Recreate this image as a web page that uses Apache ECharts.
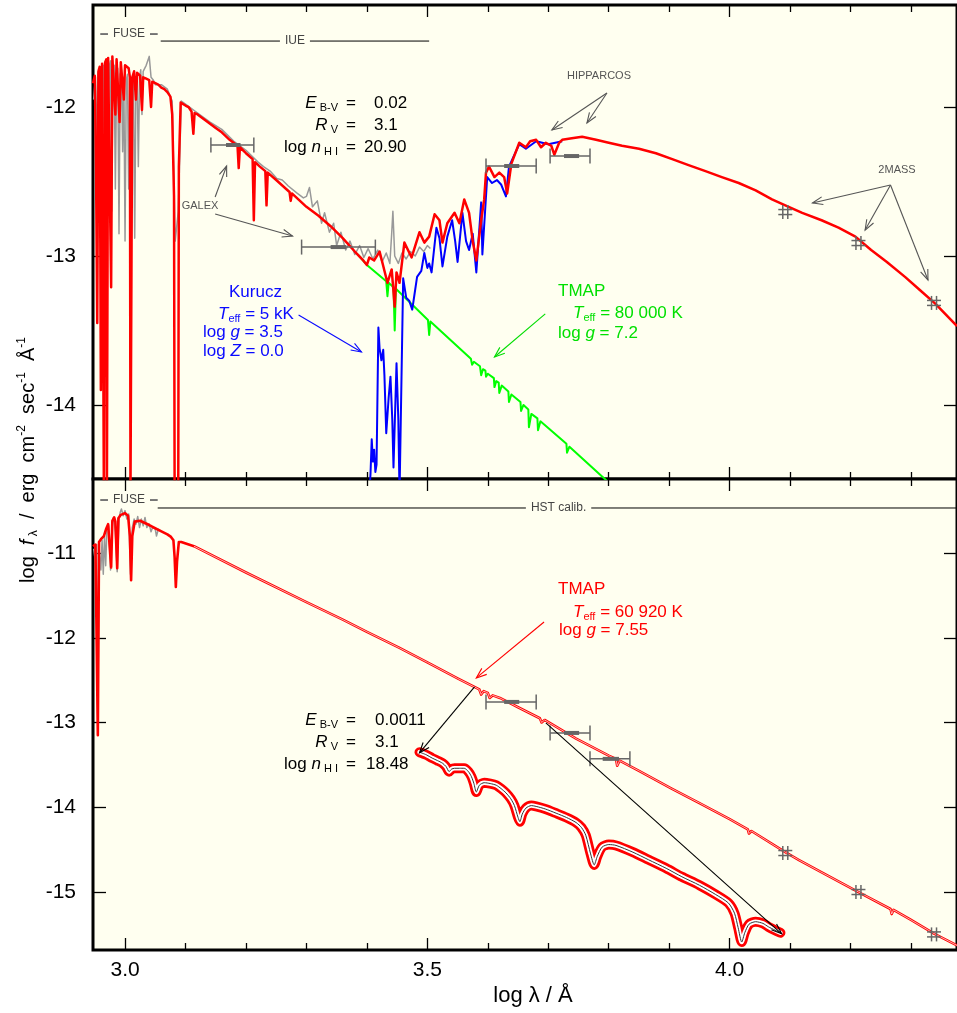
<!DOCTYPE html>
<html><head><meta charset="utf-8">
<script src="https://cdn.jsdelivr.net/npm/echarts@6/dist/echarts.min.js"></script>
<style>html,body{margin:0;padding:0;background:#fff}#c{width:957px;height:1013px}</style>
</head><body><div id="c"></div>
<script>
// ---------- axis ranges & ticks ----------
const X_RANGE = [2.947, 4.376];
const TOP_Y = [-14.497, -11.315];
const BOT_Y = [-15.684, -10.127];
const xMajorTicks = [3.0, 3.5, 4.0];
const xMinorTicks = [3.1, 3.2, 3.3, 3.4, 3.6, 3.7, 3.8, 3.9, 4.1, 4.2, 4.3];
const topYTicks = [-12, -13, -14];
const botYTicks = [-11, -12, -13, -14, -15];

// ---------- top panel: observation (FUSE+IUE), grey ----------
const topObs = [[2.948,-11.95],[2.951,-11.80],[2.953,-12.30],[2.955,-11.78],[2.957,-11.75],[2.959,-12.45],[2.961,-11.74],[2.964,-11.72],[2.966,-12.60],[2.968,-11.73],[2.970,-11.70],[2.972,-12.40],[2.974,-11.72],[2.976,-11.69],[2.978,-12.70],[2.980,-11.75],[2.982,-11.72],[2.984,-12.55],[2.986,-11.80],[2.988,-11.74],[2.990,-12.85],[2.992,-11.78],[2.994,-11.75],[2.996,-12.30],[2.998,-11.80],[3.000,-12.90],[3.002,-11.82],[3.004,-11.78],[3.006,-12.55],[3.008,-11.80],[3.010,-12.80],[3.012,-11.84],[3.014,-11.80],[3.016,-12.88],[3.018,-11.85],[3.020,-11.78],[3.022,-12.40],[3.024,-11.80],[3.026,-11.75],[3.028,-12.05],[3.030,-11.76],[3.035,-11.72],[3.040,-11.66],[3.043,-11.80],[3.047,-11.82],[3.050,-11.85],[3.060,-11.85],[3.070,-11.88],[3.078,-11.96],[3.083,-12.90],[3.088,-12.70],[3.093,-11.96],[3.100,-11.98],[3.120,-12.04],[3.140,-12.10],[3.160,-12.15],[3.180,-12.23],[3.200,-12.29],[3.220,-12.37],[3.229,-12.40],[3.240,-12.43],[3.251,-12.48],[3.260,-12.49],[3.270,-12.53],[3.285,-12.58],[3.295,-12.61],[3.300,-12.60],[3.305,-12.54],[3.310,-12.67],[3.318,-12.63],[3.325,-12.78],[3.330,-12.71],[3.338,-12.84],[3.345,-12.78],[3.350,-12.93],[3.357,-12.84],[3.365,-12.96],[3.372,-12.90],[3.380,-12.99],[3.388,-12.93],[3.395,-13.01],[3.402,-12.95],[3.410,-13.02],[3.418,-12.96],[3.425,-13.04],[3.432,-12.98],[3.438,-13.05],[3.441,-12.85],[3.443,-12.70],[3.446,-13.00],[3.452,-13.05],[3.458,-12.98],[3.465,-13.02],[3.472,-12.97],[3.480,-13.00],[3.487,-12.94],[3.494,-12.97],[3.500,-12.93],[3.505,-12.95]];

// ---------- top panel: TMAP 80 kK model, green ----------
const topTmap = [[3.385,-12.99],[3.400,-13.06],[3.432,-13.17],[3.434,-13.27],[3.436,-13.18],[3.444,-13.21],[3.446,-13.50],[3.448,-13.22],[3.501,-13.43],[3.503,-13.53],[3.505,-13.44],[3.572,-13.69],[3.574,-13.73],[3.577,-13.71],[3.587,-13.74],[3.589,-13.80],[3.592,-13.76],[3.596,-13.77],[3.597,-13.81],[3.600,-13.79],[3.610,-13.82],[3.611,-13.88],[3.614,-13.84],[3.618,-13.85],[3.619,-13.92],[3.623,-13.87],[3.634,-13.91],[3.635,-13.98],[3.639,-13.93],[3.654,-13.98],[3.655,-14.04],[3.659,-14.00],[3.667,-14.03],[3.668,-14.15],[3.672,-14.06],[3.682,-14.09],[3.683,-14.17],[3.687,-14.11],[3.730,-14.26],[3.731,-14.32],[3.735,-14.28],[3.789,-14.48],[3.800,-14.52]];

// ---------- top panel: Kurucz 5 kK model, blue ----------
const topKurucz = [[3.404,-14.60],[3.406,-14.46],[3.408,-14.23],[3.410,-14.38],[3.412,-14.30],[3.414,-14.45],[3.416,-14.40],[3.419,-13.48],[3.421,-13.62],[3.424,-13.70],[3.427,-13.63],[3.429,-13.80],[3.432,-14.19],[3.436,-13.95],[3.439,-13.81],[3.442,-14.10],[3.444,-14.42],[3.449,-13.72],[3.452,-14.10],[3.454,-14.60],[3.460,-13.15],[3.465,-13.28],[3.470,-13.30],[3.475,-13.36],[3.479,-13.25],[3.483,-13.14],[3.490,-13.10],[3.495,-12.98],[3.500,-13.08],[3.503,-13.05],[3.507,-13.11],[3.515,-12.81],[3.520,-12.88],[3.525,-13.07],[3.533,-12.87],[3.541,-12.76],[3.546,-12.90],[3.550,-13.04],[3.558,-12.71],[3.564,-12.90],[3.569,-12.96],[3.575,-12.85],[3.581,-13.11],[3.589,-12.64],[3.591,-12.99],[3.599,-12.47],[3.607,-12.51],[3.615,-12.49],[3.622,-12.52],[3.630,-12.60],[3.635,-12.40],[3.652,-12.25],[3.663,-12.28],[3.680,-12.23],[3.700,-12.25],[3.723,-12.23]];

// ---------- top panel: combined model, red ----------
const topModel = [[2.947,-11.84],[2.950,-11.79],[2.952,-12.40],[2.954,-13.45],[2.956,-11.76],[2.958,-11.73],[2.960,-13.90],[2.962,-11.71],[2.964,-11.70],[2.965,-14.60],[2.967,-11.70],[2.969,-11.68],[2.970,-14.60],[2.972,-11.67],[2.975,-11.66],[2.977,-13.21],[2.979,-11.66],[2.982,-11.67],[2.984,-12.05],[2.986,-11.68],[2.989,-11.69],[2.991,-12.10],[2.993,-11.70],[2.996,-11.71],[2.998,-11.95],[3.000,-11.72],[3.003,-11.73],[3.006,-11.74],[3.008,-11.80],[3.009,-14.60],[3.011,-14.60],[3.012,-11.80],[3.015,-11.76],[3.018,-11.95],[3.020,-11.77],[3.025,-11.79],[3.028,-12.02],[3.030,-11.80],[3.035,-11.81],[3.040,-11.82],[3.043,-12.00],[3.045,-11.83],[3.050,-11.84],[3.055,-11.85],[3.060,-11.87],[3.065,-11.88],[3.070,-11.90],[3.075,-11.93],[3.078,-12.05],[3.081,-12.60],[3.082,-14.60],[3.088,-14.60],[3.089,-12.40],[3.092,-11.97],[3.095,-11.97],[3.100,-11.99],[3.105,-12.00],[3.110,-12.03],[3.113,-12.18],[3.115,-12.04],[3.120,-12.05],[3.130,-12.08],[3.140,-12.11],[3.150,-12.14],[3.160,-12.17],[3.173,-12.22],[3.186,-12.26],[3.188,-12.41],[3.190,-12.27],[3.200,-12.31],[3.211,-12.35],[3.213,-12.76],[3.215,-12.37],[3.223,-12.40],[3.232,-12.43],[3.234,-12.66],[3.236,-12.44],[3.250,-12.49],[3.272,-12.57],[3.274,-12.63],[3.276,-12.58],[3.300,-12.67],[3.320,-12.73],[3.340,-12.80],[3.360,-12.88],[3.380,-12.97],[3.394,-13.03],[3.400,-13.06],[3.404,-13.01],[3.412,-13.03],[3.421,-12.97],[3.426,-13.05],[3.434,-13.18],[3.441,-13.09],[3.446,-13.34],[3.449,-13.11],[3.454,-13.18],[3.462,-12.91],[3.474,-13.01],[3.487,-12.84],[3.495,-12.91],[3.503,-12.87],[3.512,-12.72],[3.520,-12.76],[3.525,-12.91],[3.533,-12.78],[3.545,-12.71],[3.553,-12.78],[3.561,-12.62],[3.569,-12.71],[3.575,-12.90],[3.581,-13.03],[3.589,-12.76],[3.594,-12.62],[3.597,-12.44],[3.602,-12.40],[3.611,-12.47],[3.619,-12.44],[3.627,-12.47],[3.632,-12.58],[3.639,-12.38],[3.652,-12.24],[3.663,-12.27],[3.670,-12.23],[3.680,-12.22],[3.688,-12.27],[3.696,-12.24],[3.705,-12.26],[3.710,-12.32],[3.718,-12.24],[3.723,-12.22],[3.739,-12.21],[3.756,-12.20],[3.779,-12.22],[3.800,-12.24],[3.822,-12.26],[3.850,-12.28],[3.878,-12.31],[3.905,-12.35],[3.932,-12.39],[3.960,-12.43],[3.987,-12.47],[4.015,-12.51],[4.043,-12.56],[4.070,-12.62],[4.092,-12.66],[4.120,-12.71],[4.152,-12.76],[4.180,-12.81],[4.208,-12.87],[4.234,-12.96],[4.260,-13.04],[4.290,-13.14],[4.315,-13.23],[4.340,-13.32],[4.376,-13.47]];

// ---------- photometry: [xlo, xhi, y, innerLo, innerHi, kind(0 bar / 1 cross)] ----------
const topPhot = [[3.142,3.213,-12.255,3.167,3.191,0],[3.292,3.414,-12.94,3.340,3.366,0],[3.597,3.680,-12.396,3.627,3.652,0],[3.703,3.769,-12.329,3.726,3.751,0],[4.092,4.092,-12.705,4.092,4.092,1],[4.213,4.213,-12.913,4.213,4.213,1],[4.338,4.338,-13.315,4.338,4.338,1]];
const botPhot = [[3.597,3.680,-12.757,3.627,3.652,0],[3.703,3.769,-13.123,3.726,3.751,0],[3.769,3.835,-13.429,3.790,3.817,0],[4.092,4.092,-14.54,4.092,4.092,1],[4.213,4.213,-15.00,4.213,4.213,1],[4.338,4.338,-15.50,4.338,4.338,1]];

// ---------- bottom panel: observation (FUSE), grey ----------
const botObs = [[2.948,-10.95],[2.951,-11.10],[2.953,-10.90],[2.955,-13.10],[2.957,-10.95],[2.960,-11.20],[2.962,-10.85],[2.964,-11.25],[2.966,-10.80],[2.968,-11.15],[2.970,-10.72],[2.973,-10.68],[2.976,-11.20],[2.979,-10.64],[2.981,-10.58],[2.984,-10.75],[2.987,-11.22],[2.990,-10.60],[2.992,-10.52],[2.994,-10.48],[2.997,-10.56],[3.000,-10.50],[3.003,-10.60],[3.006,-10.54],[3.009,-11.25],[3.012,-10.70],[3.015,-10.60],[3.018,-10.66],[3.021,-10.57],[3.024,-10.70],[3.027,-10.60],[3.030,-10.68],[3.033,-10.58],[3.036,-10.70],[3.040,-10.66],[3.043,-10.75],[3.046,-10.69],[3.050,-10.72],[3.052,-10.80],[3.055,-10.72],[3.058,-10.73]];

// ---------- bottom panel: TMAP 60 920 K model, red ----------
const botModel = [[2.947,-10.92],[2.951,-10.90],[2.953,-10.89],[2.955,-13.15],[2.957,-10.87],[2.961,-10.83],[2.965,-10.80],[2.969,-10.71],[2.972,-10.66],[2.974,-10.68],[2.977,-11.17],[2.979,-10.62],[2.982,-10.58],[2.984,-10.63],[2.987,-11.18],[2.989,-10.59],[2.993,-10.55],[3.000,-10.53],[3.005,-10.56],[3.008,-10.80],[3.010,-11.32],[3.012,-10.80],[3.016,-10.63],[3.025,-10.62],[3.031,-10.64],[3.040,-10.67],[3.045,-10.69],[3.056,-10.73],[3.070,-10.78],[3.076,-10.81],[3.080,-10.85],[3.082,-11.05],[3.084,-11.40],[3.086,-11.10],[3.089,-10.87],[3.093,-10.87],[3.114,-10.92],[3.200,-11.23],[3.300,-11.58],[3.361,-11.79],[3.400,-11.93],[3.454,-12.12],[3.500,-12.29],[3.550,-12.48],[3.586,-12.61],[3.589,-12.67],[3.593,-12.63],[3.600,-12.65],[3.603,-12.71],[3.608,-12.68],[3.620,-12.71],[3.650,-12.82],[3.686,-12.95],[3.689,-13.00],[3.694,-12.97],[3.746,-13.19],[3.800,-13.39],[3.812,-13.43],[3.814,-13.51],[3.818,-13.45],[3.850,-13.57],[3.904,-13.78],[3.950,-13.95],[4.000,-14.14],[4.030,-14.26],[4.032,-14.31],[4.036,-14.28],[4.092,-14.53],[4.114,-14.62],[4.150,-14.76],[4.213,-15.00],[4.266,-15.20],[4.268,-15.26],[4.271,-15.21],[4.300,-15.33],[4.338,-15.49],[4.376,-15.63]];

// ---------- bottom panel: enlarged detail of the model (thick band) ----------
const botDetail = [[3.487,-13.35],[3.498,-13.38],[3.508,-13.42],[3.517,-13.45],[3.525,-13.48],[3.531,-13.52],[3.536,-13.58],[3.540,-13.55],[3.545,-13.54],[3.553,-13.54],[3.561,-13.54],[3.568,-13.58],[3.573,-13.64],[3.577,-13.72],[3.581,-13.82],[3.586,-13.74],[3.594,-13.71],[3.604,-13.72],[3.614,-13.74],[3.622,-13.78],[3.630,-13.83],[3.638,-13.90],[3.644,-13.98],[3.650,-14.12],[3.653,-14.17],[3.657,-14.08],[3.663,-14.01],[3.672,-13.98],[3.680,-13.99],[3.695,-14.02],[3.713,-14.07],[3.730,-14.12],[3.746,-14.18],[3.755,-14.24],[3.762,-14.33],[3.770,-14.55],[3.776,-14.68],[3.781,-14.58],[3.789,-14.47],[3.800,-14.44],[3.812,-14.45],[3.840,-14.53],[3.866,-14.62],[3.895,-14.72],[3.921,-14.82],[3.950,-14.92],[3.977,-15.03],[3.998,-15.13],[4.008,-15.25],[4.014,-15.42],[4.020,-15.59],[4.025,-15.48],[4.032,-15.38],[4.043,-15.35],[4.055,-15.37],[4.064,-15.41],[4.075,-15.45],[4.084,-15.48]];

// ---------- annotation arrows: [x1, y1, x2, y2] (data units) ----------
const arrowsTopGrey = [[3.797,-11.906,3.706,-12.154],[3.797,-11.906,3.764,-12.107],[4.266,-12.523,4.137,-12.644],[4.266,-12.523,4.224,-12.826],[4.266,-12.523,4.328,-13.161],[3.149,-12.604,3.168,-12.396],[3.149,-12.718,3.277,-12.866]];
const arrowsTopBlue = [[3.287,-13.396,3.391,-13.644]];
const arrowsTopGreen = [[3.695,-13.389,3.611,-13.678]];
const arrowsBotRed = [[3.693,-11.814,3.581,-12.474]];
const arrowsBotBlack = [[3.578,-12.580,3.487,-13.358],[3.696,-13.005,4.086,-15.493]];

// ---------- instrument ranges: [label, xStart, xEnd, y, style] ----------
const instTop = [['FUSE', 2.959, 3.054, -11.510, 'dash'], ['IUE', 3.059, 3.503, -11.557, 'line']];
const instBot = [['FUSE', 2.959, 3.054, -10.375, 'dash'], ['HST calib.', 3.054, 4.38, -10.469, 'line']];

// =====================================================================
const FF = '"Liberation Sans", Arial, Helvetica, sans-serif';
const chart = echarts.init(document.getElementById('c'), null, {renderer: 'canvas'});
const mctx = document.createElement('canvas').getContext('2d');
function textW(t, fs) { mctx.font = fs + 'px ' + FF; return mctx.measureText(t).width; }

function richSet(fs) {
  const s = Math.round(fs * 0.62);
  return {
    i: {fontStyle: 'italic', fontSize: fs, fontFamily: FF, lineHeight: fs + 4},
    sb: {fontSize: s, fontFamily: FF, lineHeight: 10, verticalAlign: 'bottom'},
    sp: {fontSize: s, fontFamily: FF, lineHeight: 10, verticalAlign: 'top'}
  };
}
function T(x, y, text, o) {
  o = o || {};
  const fs = o.fontSize || 17;
  return {type: 'text', x: x, y: y, z: 100, silent: true, rotation: o.rotation || 0,
    style: {text: text, fill: o.color || '#000', fontSize: fs, fontFamily: FF,
      align: o.align || 'left', verticalAlign: 'middle', lineHeight: fs + 4, rich: richSet(fs)}};
}

function arrowSeries(list, color, xi, yi) {
  return {type: 'custom', xAxisIndex: xi, yAxisIndex: yi, z: 20, silent: true,
    data: list, encode: {x: [0, 2], y: [1, 3]},
    renderItem: function (params, api) {
      const p1 = api.coord([api.value(0), api.value(1)]);
      const p2 = api.coord([api.value(2), api.value(3)]);
      const ang = Math.atan2(p2[1] - p1[1], p2[0] - p1[0]);
      const L = 11, w = 0.36;
      const h1 = [p2[0] - L * Math.cos(ang - w), p2[1] - L * Math.sin(ang - w)];
      const h2 = [p2[0] - L * Math.cos(ang + w), p2[1] - L * Math.sin(ang + w)];
      return {type: 'group', children: [
        {type: 'line', shape: {x1: p1[0], y1: p1[1], x2: p2[0], y2: p2[1]}, style: {stroke: color, lineWidth: 1.1}},
        {type: 'polyline', shape: {points: [h1, p2, h2]}, style: {stroke: color, fill: null, lineWidth: 1.1}}
      ]};
    }};
}

function photSeries(list, xi, yi) {
  return {type: 'custom', xAxisIndex: xi, yAxisIndex: yi, z: 15, silent: true,
    data: list, encode: {x: [0, 1], y: 2},
    renderItem: function (params, api) {
      const c = '#666';
      const y = api.value(2);
      const ln = (x1, y1, x2, y2, w) => ({type: 'line', shape: {x1, y1, x2, y2}, style: {stroke: c, lineWidth: w || 1.5}});
      if (api.value(5) === 1) {
        const p = api.coord([api.value(0), y]);
        return {type: 'group', children: [
          ln(p[0] - 2.5, p[1] - 7, p[0] - 2.5, p[1] + 7), ln(p[0] + 2.5, p[1] - 7, p[0] + 2.5, p[1] + 7),
          ln(p[0] - 7, p[1] - 2.5, p[0] + 7, p[1] - 2.5), ln(p[0] - 7, p[1] + 2.5, p[0] + 7, p[1] + 2.5)
        ]};
      }
      const a = api.coord([api.value(0), y]), b = api.coord([api.value(1), y]);
      const ia = api.coord([api.value(3), y]), ib = api.coord([api.value(4), y]);
      return {type: 'group', children: [
        ln(a[0], a[1], b[0], b[1], 1.5),
        ln(a[0], a[1] - 7.5, a[0], a[1] + 7.5, 1.5),
        ln(b[0], b[1] - 7.5, b[0], b[1] + 7.5, 1.5),
        ln(ia[0], ia[1], ib[0], ib[1], 4)
      ]};
    }};
}

function instSeries(list, xi, yi) {
  return {type: 'custom', xAxisIndex: xi, yAxisIndex: yi, z: 15, silent: true, clip: false,
    data: list.map(r => [r[1], r[2], r[3]]), encode: {x: [0, 1], y: 2},
    renderItem: function (params, api) {
      const r = list[params.dataIndex];
      const a = api.coord([r[1], r[3]]), b = api.coord([r[2], r[3]]);
      const cx = (a[0] + b[0]) / 2;
      const w = textW(r[0], 12) / 2 + 5;
      const dash = r[4] === 'dash';
      const col = dash ? '#6a6a6a' : '#000';
      const lw = dash ? 1.8 : 1;
      return {type: 'group', children: [
        {type: 'line', shape: {x1: a[0], y1: a[1], x2: cx - w, y2: a[1]}, style: {stroke: col, lineWidth: lw}},
        {type: 'line', shape: {x1: cx + w, y1: a[1], x2: b[0], y2: a[1]}, style: {stroke: col, lineWidth: lw}},
        {type: 'text', x: cx, y: a[1], style: {text: r[0], fill: '#444', fontSize: 12, fontFamily: FF, align: 'center', verticalAlign: 'middle'}}
      ]};
    }};
}

function lineSeries(data, color, width, xi, yi, z, extra) {
  return Object.assign({type: 'line', data: data, xAxisIndex: xi, yAxisIndex: yi, z: z,
    showSymbol: false, symbol: 'none', silent: true, clip: true,
    lineStyle: {color: color, width: width, join: 'round'}}, extra || {});
}

const tickStyle = {color: '#000', width: 1.3};
function xAx(grid, pos, vals, len, labels) {
  return {type: 'value', gridIndex: grid, position: pos, min: X_RANGE[0], max: X_RANGE[1],
    axisLine: {show: false, onZero: false}, splitLine: {show: false},
    axisTick: {show: true, inside: true, length: len, customValues: vals, lineStyle: tickStyle},
    axisLabel: labels ? {show: true, customValues: xMajorTicks, formatter: v => Number(v).toFixed(1),
      fontSize: 21, fontFamily: FF, color: '#000', margin: 10} : {show: false}};
}
function yAx(grid, pos, range, vals, labels) {
  return {type: 'value', gridIndex: grid, position: pos, min: range[0], max: range[1],
    axisLine: {show: false, onZero: false}, splitLine: {show: false},
    axisTick: {show: true, inside: true, length: 13, customValues: vals, lineStyle: tickStyle},
    axisLabel: labels ? {show: true, customValues: vals, formatter: v => String(v),
      fontSize: 21, fontFamily: FF, color: '#000', margin: 17} : {show: false}};
}

const BG = '#fffff0';
const blue = '#0a0aff', green = '#00e000', red = '#ff0000';

const option = {
  animation: false,
  backgroundColor: '#ffffff',
  grid: [
    {left: 93, top: 5, width: 866, height: 474, show: true, backgroundColor: BG, borderColor: '#000', borderWidth: 3},
    {left: 93, top: 479, width: 866, height: 471, show: true, backgroundColor: BG, borderColor: '#000', borderWidth: 3}
  ],
  xAxis: [
    xAx(0, 'bottom', xMajorTicks, 12, false),
    xAx(0, 'bottom', xMinorTicks, 7, false),
    xAx(0, 'top', xMajorTicks, 12, false),
    xAx(0, 'top', xMinorTicks, 7, false),
    xAx(1, 'bottom', xMajorTicks, 12, true),
    xAx(1, 'bottom', xMinorTicks, 7, false),
    xAx(1, 'top', xMajorTicks, 12, false),
    xAx(1, 'top', xMinorTicks, 7, false)
  ],
  yAxis: [
    yAx(0, 'left', TOP_Y, topYTicks, true),
    yAx(0, 'right', TOP_Y, topYTicks, false),
    yAx(1, 'left', BOT_Y, botYTicks, true),
    yAx(1, 'right', BOT_Y, botYTicks, false)
  ],
  series: [
    // top panel
    lineSeries(topObs, '#999999', 1.5, 0, 0, 3),
    lineSeries(topTmap, '#00ff00', 2, 0, 0, 4),
    lineSeries(topKurucz, '#0000ff', 2, 0, 0, 5),
    lineSeries(topModel, red, 2.5, 0, 0, 6),
    photSeries(topPhot, 0, 0),
    arrowSeries(arrowsTopGrey, '#555', 0, 0),
    arrowSeries(arrowsTopBlue, blue, 0, 0),
    arrowSeries(arrowsTopGreen, '#00dd00', 0, 0),
    instSeries(instTop, 0, 0),
    // bottom panel
    lineSeries(botObs, '#999999', 1.5, 4, 2, 3),
    lineSeries(botModel, red, 2.6, 4, 2, 4),
    lineSeries(botModel.filter(p => p[0] > 3.095), '#ffd8d8', 0.8, 4, 2, 5),
    lineSeries(botDetail, red, 10, 4, 2, 6, {smooth: 0.25, lineStyle: {color: red, width: 10, cap: 'round', join: 'round'}}),
    lineSeries(botDetail, '#ffffff', 4.5, 4, 2, 7, {smooth: 0.25, lineStyle: {color: '#ffffff', width: 4.5, cap: 'round', join: 'round'}}),
    lineSeries(botDetail, '#333333', 1, 4, 2, 8, {smooth: 0.25}),
    photSeries(botPhot, 4, 2),
    arrowSeries(arrowsBotRed, red, 4, 2),
    arrowSeries(arrowsBotBlack, '#000', 4, 2),
    instSeries(instBot, 4, 2)
  ],
  graphic: [
    // top panel: extinction parameters
    T(338, 103, '{i|E}{sb| B-V}', {align: 'right'}), T(351, 103, '=', {align: 'center'}), T(374, 103, '0.02'),
    T(338, 125, '{i|R}{sb| V}', {align: 'right'}), T(351, 125, '=', {align: 'center'}), T(374, 125, '3.1'),
    T(338, 147, 'log {i|n}{sb| H I}', {align: 'right'}), T(351, 147, '=', {align: 'center'}), T(364, 147, '20.90'),
    // Kurucz
    T(229, 292, 'Kurucz', {color: blue}),
    T(218, 314, '{i|T}{sb|eff} = 5 kK', {color: blue}),
    T(203, 332, 'log {i|g} = 3.5', {color: blue}),
    T(203, 351, 'log {i|Z} = 0.0', {color: blue}),
    // TMAP green
    T(558, 291, 'TMAP', {color: green}),
    T(573, 313, '{i|T}{sb|eff} = 80 000 K', {color: green}),
    T(558, 333, 'log {i|g} = 7.2', {color: green}),
    // small grey labels
    T(599, 76, 'HIPPARCOS', {fontSize: 11, color: '#555', align: 'center'}),
    T(897, 170, '2MASS', {fontSize: 11, color: '#555', align: 'center'}),
    T(200, 206, 'GALEX', {fontSize: 11, color: '#555', align: 'center'}),
    // bottom panel: TMAP red
    T(558, 589, 'TMAP', {color: red}),
    T(573, 612, '{i|T}{sb|eff} = 60 920 K', {color: red}),
    T(559, 630, 'log {i|g} = 7.55', {color: red}),
    // bottom panel: extinction parameters
    T(338, 720, '{i|E}{sb| B-V}', {align: 'right'}), T(351, 720, '=', {align: 'center'}), T(375, 720, '0.0011'),
    T(338, 742, '{i|R}{sb| V}', {align: 'right'}), T(351, 742, '=', {align: 'center'}), T(375, 742, '3.1'),
    T(338, 764, 'log {i|n}{sb| H I}', {align: 'right'}), T(351, 764, '=', {align: 'center'}), T(366, 764, '18.48'),
    // axis titles
    T(533, 996, 'log λ / Å', {fontSize: 22, align: 'center'}),
    T(28, 460, 'log  {i|f}{sb| λ}  /  erg  cm{sp|-2}  sec{sp|-1}  Å{sp|-1}', {fontSize: 20, align: 'center', rotation: Math.PI / 2})
  ]
};
chart.setOption(option);
</script>
</body></html>
